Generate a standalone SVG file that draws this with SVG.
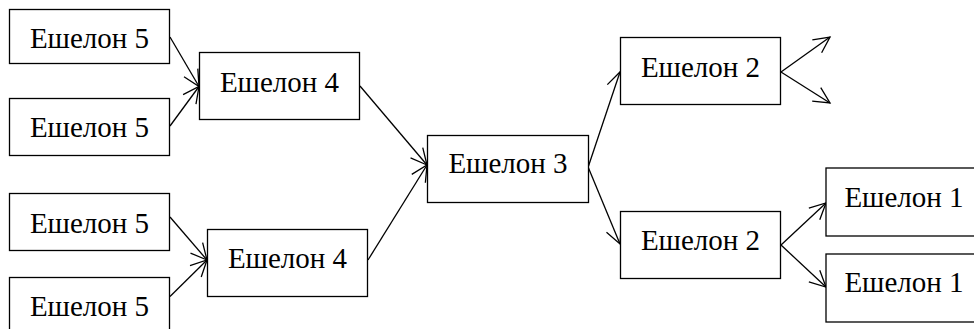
<svg xmlns="http://www.w3.org/2000/svg" width="974" height="329" viewBox="0 0 974 329">
<style>
.box{fill:#fff;stroke:#000;stroke-width:1.3}
.lbl{font-family:"Liberation Serif","Times New Roman",serif;font-size:29px;fill:#000;text-anchor:middle}
.edge{fill:none;stroke:#000;stroke-width:1.3;marker-end:url(#arr)}
</style>
<defs>
<marker id="arr" markerUnits="userSpaceOnUse" markerWidth="40" markerHeight="40" refX="0" refY="0" viewBox="-20 -20 40 40" orient="auto" overflow="visible">
<path d="M-16,-8 L0,0 L-16,8" fill="none" stroke="#000" stroke-width="1.3"/>
</marker>
</defs>
<rect width="974" height="329" fill="#fff"/>
<g id="connectors">
<line class="edge" x1="170" y1="37" x2="199" y2="86.5"/>
<line class="edge" x1="170" y1="126" x2="199" y2="86.5"/>
<line class="edge" x1="170" y1="217" x2="207" y2="260"/>
<line class="edge" x1="170" y1="296.5" x2="207" y2="260"/>
<line class="edge" x1="360" y1="86" x2="427" y2="165"/>
<line class="edge" x1="368" y1="260" x2="427" y2="165"/>
<line class="edge" x1="588.5" y1="166" x2="620" y2="72"/>
<line class="edge" x1="588.5" y1="168" x2="620" y2="244"/>
<line class="edge" x1="781" y1="72" x2="830" y2="37"/>
<line class="edge" x1="781" y1="72" x2="830" y2="103"/>
<line class="edge" x1="781" y1="245" x2="826" y2="203"/>
<line class="edge" x1="781" y1="245" x2="826" y2="287"/>
</g>
<g id="e5a"><rect class="box" x="9.5" y="9.5" width="160" height="54"/><text class="lbl" x="89.5" y="48">Ешелон 5</text></g>
<g id="e5b"><rect class="box" x="9.5" y="98.5" width="160" height="57"/><text class="lbl" x="89.5" y="137">Ешелон 5</text></g>
<g id="e4a"><rect class="box" x="199.5" y="52.5" width="160" height="67"/><text class="lbl" x="279.5" y="92">Ешелон 4</text></g>
<g id="e5c"><rect class="box" x="9.5" y="193.5" width="160" height="57"/><text class="lbl" x="89.5" y="233">Ешелон 5</text></g>
<g id="e5d"><rect class="box" x="9.5" y="277.5" width="160" height="70"/><text class="lbl" x="89.5" y="316">Ешелон 5</text></g>
<g id="e4b"><rect class="box" x="207.5" y="229.5" width="160" height="67"/><text class="lbl" x="287.5" y="267.5">Ешелон 4</text></g>
<g id="e3"><rect class="box" x="427.5" y="135.5" width="161" height="67"/><text class="lbl" x="508" y="173">Ешелон 3</text></g>
<g id="e2a"><rect class="box" x="620.5" y="37.5" width="160" height="67"/><text class="lbl" x="700.5" y="76.5">Ешелон 2</text></g>
<g id="e2b"><rect class="box" x="620.5" y="211.5" width="160" height="67"/><text class="lbl" x="700.5" y="249.5">Ешелон 2</text></g>
<g id="e1a"><rect class="box" x="826" y="168" width="170" height="68"/><text class="lbl" x="904" y="206.5">Ешелон 1</text></g>
<g id="e1b"><rect class="box" x="826" y="254" width="170" height="68"/><text class="lbl" x="904" y="291.5">Ешелон 1</text></g>
</svg>
